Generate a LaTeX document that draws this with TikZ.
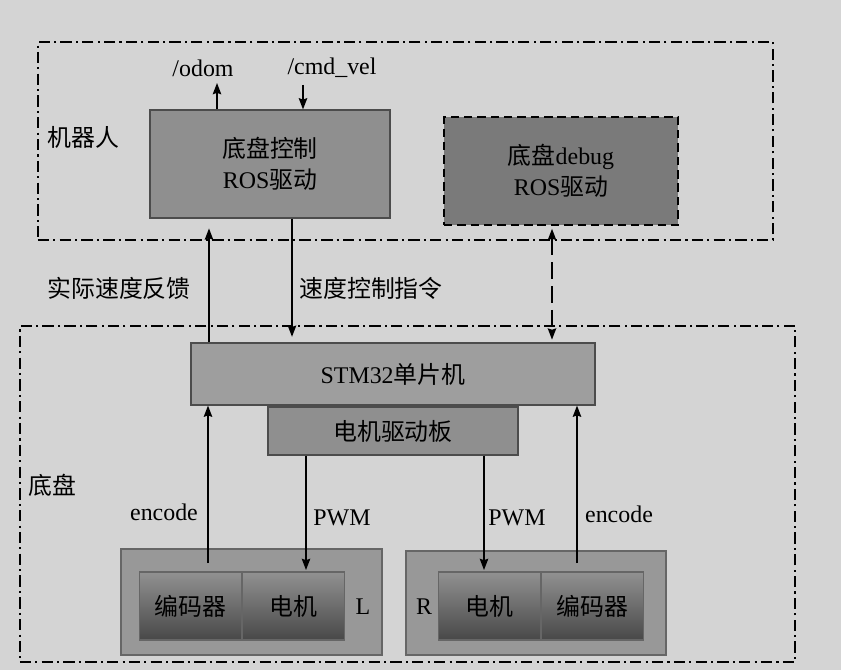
\documentclass[tikz,border=0pt]{standalone}
\usepackage{fontspec}
\setmainfont{Liberation Serif}
\newfontfamily\cjk{Noto Sans CJK SC}
\usepackage{tikz}
\usetikzlibrary{shapes,arrows,arrows.meta,positioning}

\definecolor{paper}{RGB}{212,212,212}
\definecolor{boxgray}{RGB}{143,143,143}
\definecolor{debuggray}{RGB}{122,122,122}
\definecolor{stmgray}{RGB}{158,158,158}
\definecolor{groupgray}{RGB}{152,152,152}
\definecolor{innertop}{RGB}{145,145,145}
\definecolor{innerbot}{RGB}{72,72,72}

\begin{document}
\begin{tikzpicture}[
  x=0.025cm,
  y=-0.025cm,
  font=\fontsize{17}{22}\selectfont,
  frame/.style={
    rectangle,
    draw=black,
    line width=1.2pt,
    dash pattern=on 8pt off 3pt on 1.5pt off 3pt,
    inner sep=0pt
  },
  box/.style={
    rectangle,
    draw=black!70,
    fill=boxgray,
    line width=0.8pt,
    text=black,
    align=center
  },
  debugbox/.style={
    box,
    fill=debuggray,
    draw=black,
    line width=1.4pt,
    dash pattern=on 6pt off 3.5pt
  },
  groupbox/.style={
    rectangle,
    draw=black!60,
    fill=groupgray,
    line width=0.8pt
  },
  motorbox/.style={
    rectangle,
    draw=black!60,
    top color=innertop,
    bottom color=innerbot,
    line width=0.8pt,
    minimum width=2.55cm,
    minimum height=1.7cm,
    text=black
  },
  arrow/.style={
    ->,
    line width=1.1pt,
    draw=black,
    >={Stealth[length=8pt,width=6pt,inset=1pt]}
  },
  dasharrow/.style={
    <->,
    line width=1.1pt,
    draw=black,
    dash pattern=on 12pt off 5pt,
    >={Stealth[length=8pt,width=6pt,inset=1pt]}
  }
]

% Paper and picture size
\fill[paper] (0,0) rectangle (841,670);
\useasboundingbox (0,0) rectangle (841,670);

% Robot side
\node[frame, minimum width=18.375cm, minimum height=4.95cm] (robot) at (405.5,141) {};
\node[anchor=west] (robotlbl) at (43,137) {\cjk 机器人};
\node[box, minimum width=6cm, minimum height=2.7cm] (ctrl) at (270,164) {{\cjk 底盘控制}\\ROS{\cjk 驱动}};
\node[debugbox, minimum width=5.85cm, minimum height=2.7cm] (debug) at (561,171) {{\cjk 底盘}debug\\ROS{\cjk 驱动}};

% Topics
\node (odom) at (203,68) {/odom};
\node (cmdvel) at (332,68) {/cmd\_vel};
\coordinate (odomx) at (217,83);
\coordinate (cmdx) at (303,85);
\draw[arrow] (ctrl.north -| odomx) -- (odomx);
\draw[arrow] (cmdx) -- (ctrl.north -| cmdx);

% Chassis side
\node[frame, minimum width=19.375cm, minimum height=8.4cm] (chassis) at (407.5,494) {};
\node[anchor=west] (chassislbl) at (24,485) {\cjk 底盘};
\node[box, fill=stmgray, minimum width=10.1cm, minimum height=1.55cm] (stm) at (393,374) {STM32{\cjk 单片机}};
\node[box, minimum width=6.25cm, minimum height=1.2cm] (drv) at (393,431) {\cjk 电机驱动板};

% Left wheel
\node[groupbox, minimum width=6.525cm, minimum height=2.65cm] (lgroup) at (251.5,602) {};
\node[motorbox] (lenc) at (190.5,606) {\cjk 编码器};
\node[motorbox, right=0pt of lenc] (lmot) {\cjk 电机};
\node (lside) at (363,607) {L};

% Right wheel
\node[groupbox, minimum width=6.5cm, minimum height=2.6cm] (rgroup) at (536,603) {};
\node[motorbox] (rmot) at (489.5,606) {\cjk 电机};
\node[motorbox, right=0pt of rmot] (renc) {\cjk 编码器};
\node (rside) at (424,607) {R};

% Links between robot and chassis
\coordinate (fbx) at (209,0);
\coordinate (cmdy) at (292,0);
\coordinate (dbgx) at (552,0);
\draw[arrow, shorten >=7pt] (stm.north -| fbx) -- (ctrl.south -| fbx);
\draw[arrow, shorten >=4pt] (ctrl.south -| cmdy) -- (stm.north -| cmdy);
\draw[dasharrow, shorten <=2pt, shorten >=2pt] (debug.south -| dbgx) -- (stm.north -| dbgx);
\node (fblbl) at (119,288) {\cjk 实际速度反馈};
\node (cmdlbl) at (371,288) {\cjk 速度控制指令};

% Links to the wheels
\coordinate (encl) at (208,563);
\coordinate (pwml) at (306,0);
\coordinate (pwmr) at (484,0);
\coordinate (encr) at (577,563);
\draw[arrow] (encl) -- (stm.south -| encl);
\draw[arrow, shorten >=1pt] (drv.south -| pwml) -- (lmot.north -| pwml);
\draw[arrow, shorten >=1pt] (drv.south -| pwmr) -- (rmot.north -| pwmr);
\draw[arrow] (encr) -- (stm.south -| encr);
\node (encllbl) at (164,512) {encode};
\node (pwmllbl) at (342,518) {PWM};
\node (pwmrlbl) at (517,518) {PWM};
\node (encrlbl) at (619,514) {encode};

\end{tikzpicture}
\end{document}
